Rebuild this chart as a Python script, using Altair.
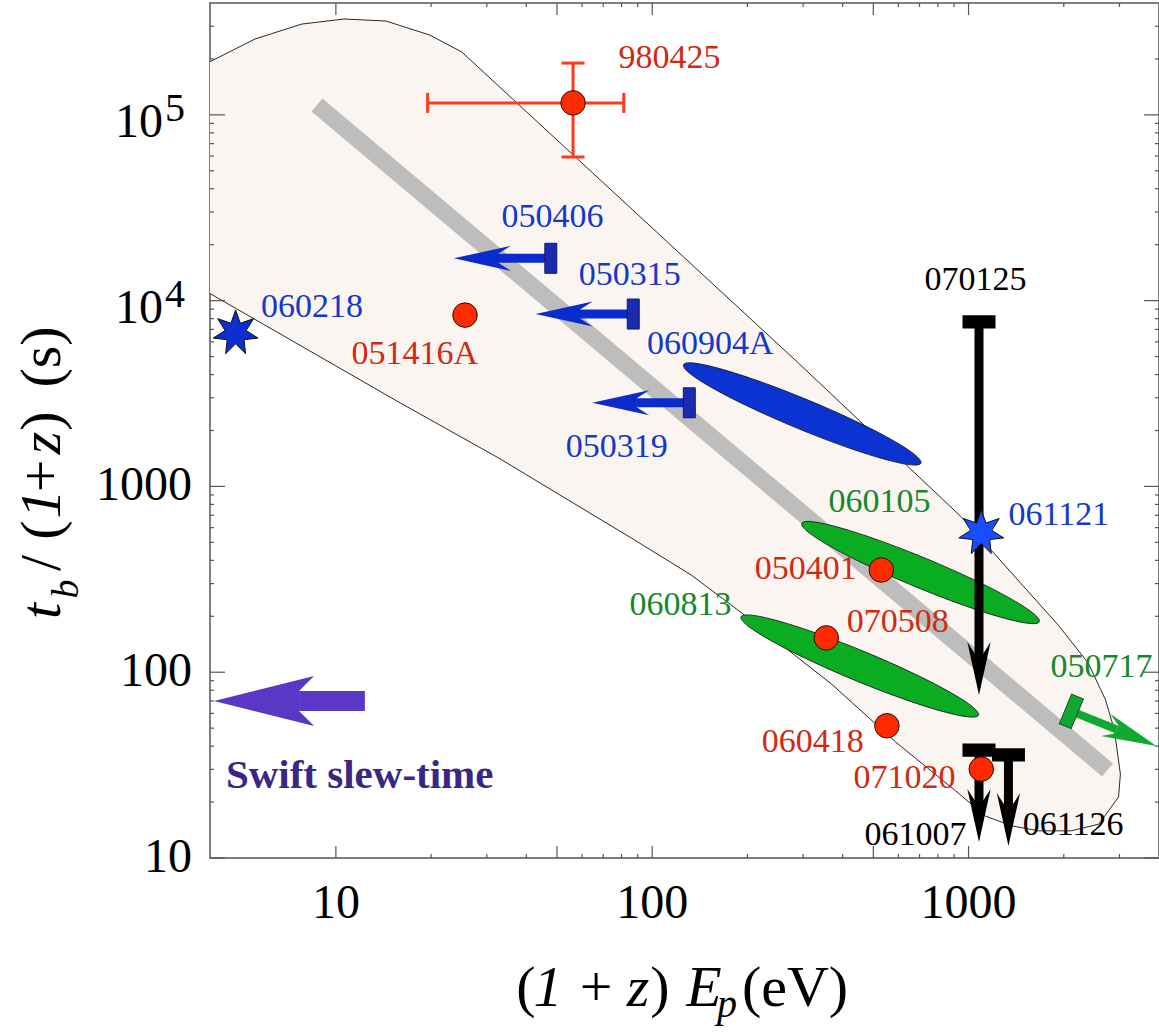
import math
import altair as alt
import pandas as pd

# ---------------- data ----------------
# envelope of the allowed region (closed outline, upper edge left->right, lower edge right->left)
env_E = [3.0, 3.97, 5.55, 7.8, 10.6, 14.4, 15.8, 19.8, 25.0, 290, 950, 1923, 2390, 2710,
         2890, 3020, 2980, 2580, 2110, 1663, 1368, 1132, 910, 588, 369, 290, 192, 133,
         86, 32.7, 15.8, 3.97, 3.0]
env_t = [1.51e5, 1.92e5, 2.56e5, 3.08e5, 3.28e5, 3.2e5, 3.04e5, 2.69e5, 2.18e5, 4610, 684,
         179, 112, 71, 48.9, 28.3, 21.3, 15.2, 14.0, 14.0, 14.9, 16.8, 23.0, 42.1, 86.3,
         119, 208, 333, 527, 1422, 2844, 11000, 14500]

# grey correlation band (end points)
band_E = [8.71, 2750]
band_t = [1.13e5, 29.8]

# red points
circ_name = ["980425", "051416A", "050401", "070508", "060418", "071020"]
circ_E = [56.2, 25.6, 530, 355, 552, 1097]
circ_t = [1.16e5, 8360, 355, 153, 51.5, 30.1]

# error bars of 980425
err_E = [56.2]
err_t = [1.16e5]
err_E_lo, err_E_hi = [19.5], [81.3]
err_t_lo, err_t_hi = [5.93e4], [1.90e5]

# stars
star_name = ["060218", "061121"]
star_E = [4.82, 1097]
star_t = [6700, 563]
star_col = ["#0b2fd0", "#1a4dff"]

# ellipses (centres)
ell_name = ["060904A", "060105", "060813"]
ell_E = [298, 705, 453]
ell_t = [2455, 344, 108]
ell_col = ["#0a33d1", "#0aad22", "#0aad22"]

# upper limits on E (arrows pointing left)
left_name = ["050406", "050315", "050319"]
left_E = [47.8, 87.1, 131]
left_tip = [23.6, 42.8, 64.6]
left_t = [16900, 8470, 2820]

# upper limits on t (arrows pointing down)
down_name = ["070125", "061007", "061126"]
down_E = [1079, 1079, 1337]
down_t = [7690, 38.1, 35.9]
down_tip = [75.4, 12.2, 11.6]

# 050717 (green, diagonal)
g_E, g_t = [2114], [61.6]
g_tipE, g_tipt = [3926], [40.1]

# Swift slew-time arrow
sw_E, sw_tip, sw_t = [12.35], [4.12], [70]

# labels
lab_left_text = ["980425", "050406", "050315", "060218", "051416A", "060904A", "050319",
                 "060105", "061121", "070508", "050717", "061126"]
lab_left_E = [78.3, 33.4, 58.6, 5.80, 11.2, 96.2, 53.3, 361, 1337, 412, 1815, 1483]
lab_left_t = [2.02e5, 28200, 13700, 9290, 5190, 5840, 1630, 824, 702, 186, 107, 15.0]
lab_left_col = ["#cf2a12", "#1438cc", "#1438cc", "#1438cc", "#cf2a12", "#1438cc", "#1438cc",
                "#14882c", "#1438cc", "#cf2a12", "#14882c", "#000000"]
lab_right_text = ["050401", "060813", "060418", "071020", "061007"]
lab_right_E = [443, 178, 466, 910, 986]
lab_right_t = [359, 230, 42.1, 27.0, 13.3]
lab_right_col = ["#cf2a12", "#14882c", "#cf2a12", "#cf2a12", "#000000"]
lab_center_text = ["070125"]
lab_center_E = [1052]
lab_center_t = [12900]

# axes ticks
x_major = [10, 100, 1000]
x_medium = [50, 500]
x_minor = [20, 30, 40, 60, 70, 80, 90, 200, 300, 400, 600, 700, 800, 900, 2000, 3000]
y_major = [10, 100, 1000, 1e4, 1e5]
y_minor = [k * 10 ** n for n in range(1, 6) for k in range(2, 10) if k * 10 ** n < 4e5]
x_lab_vals = [10, 100, 1000]
x_lab_text = ["10", "100", "1000"]
y_lab_vals = [10, 100, 1000]
y_lab_text = ["10", "100", "1000"]
y_pow_vals = [1e4, 1e5]
y_pow_exp = ["4", "5"]

# ---------------- styling helpers ----------------
F = "Liberation Serif"
W, H = 949, 855
xs = alt.Scale(type="log", domain=[4, 4000])
ys = alt.Scale(type="log", domain=[10, 4e5])


def X(f):
    return alt.X(f, type="quantitative", scale=xs, axis=None)


def Y(f):
    return alt.Y(f, type="quantitative", scale=ys, axis=None)


one = pd.DataFrame({"a": [0]})

# custom shapes
HEAD = "M 0 0 L -1 -0.22 L -0.78 -0.08 L -0.78 0.08 L -1 0.22 Z"
HEAD_BIG = "M 0 0 L -1 -0.25 L -0.85 -0.1 L -0.85 0.1 L -1 0.25 Z"
BAR = "M -0.4 -1 L 0.4 -1 L 0.4 1 L -0.4 1 Z"
r_e, k_e = 0.117, 0.5523
kr = k_e * r_e
ELL = (f"M 1 0 C 1 {kr:.4f} {k_e} {r_e} 0 {r_e} C {-k_e} {r_e} -1 {kr:.4f} -1 0 "
       f"C -1 {-kr:.4f} {-k_e} {-r_e} 0 {-r_e} C {k_e} {-r_e} 1 {-kr:.4f} 1 0 Z")
pts = []
for i in range(14):
    a = -math.pi / 2 + i * math.pi / 7
    rr = 1.0 if i % 2 == 0 else 0.47
    pts.append((rr * math.cos(a), rr * math.sin(a)))
STAR = "M " + " L ".join(f"{px:.3f} {py:.3f}" for px, py in pts) + " Z"

layers = []

# envelope
env_df = pd.DataFrame({"E": env_E, "t": env_t, "o": list(range(len(env_E)))})
layers.append(alt.Chart(env_df).mark_line(fill="#fbf5f2", stroke="#111111", strokeWidth=0.9,
                                          clip=True)
              .encode(x=X("E"), y=Y("t"), order="o:Q"))

# band
band_df = pd.DataFrame({"E": band_E, "t": band_t})
layers.append(alt.Chart(band_df).mark_line(color="#bdbdbd", strokeWidth=17, strokeCap="butt",
                                           clip=True)
              .encode(x=X("E"), y=Y("t")))

# ellipses
ell_df = pd.DataFrame({"E": ell_E, "t": ell_t, "c": ell_col})
layers.append(alt.Chart(ell_df).mark_point(shape=ELL, size=66049, angle=22.5, filled=True,
                                           opacity=1, stroke="#1a1a1a", strokeWidth=0.8)
              .encode(x=X("E"), y=Y("t"), fill=alt.Fill("c:N", scale=None)))

# left arrows
BLUE = "#0a2ccc"
left_df = pd.DataFrame({"E": left_E, "tip": left_tip, "t": left_t})
layers.append(alt.Chart(left_df).mark_rule(color=BLUE, strokeWidth=9, x2Offset=44)
              .encode(x=X("E"), x2="tip:Q", y=Y("t")))
layers.append(alt.Chart(left_df).mark_point(shape=HEAD, size=12996, angle=180, filled=True,
                                            opacity=1, color=BLUE, strokeWidth=0)
              .encode(x=X("tip"), y=Y("t")))
layers.append(alt.Chart(left_df).mark_point(shape=BAR, size=900, angle=0, filled=True, opacity=1,
                                            fill="#1a2bb0", stroke="#1a1a60", strokeWidth=1)
              .encode(x=X("E"), y=Y("t")))

# down arrows
down_df = pd.DataFrame({"E": down_E, "t": down_t, "tip": down_tip})
layers.append(alt.Chart(down_df).mark_rule(color="black", strokeWidth=9, y2Offset=-41)
              .encode(x=X("E"), y=Y("t"), y2="tip:Q"))
layers.append(alt.Chart(down_df).mark_point(shape=HEAD, size=11236, angle=90, filled=True,
                                            opacity=1, color="black", strokeWidth=0)
              .encode(x=X("E"), y=Y("tip")))
layers.append(alt.Chart(down_df).mark_point(shape=BAR, size=1089, angle=90, filled=True,
                                            opacity=1, color="black", strokeWidth=0)
              .encode(x=X("E"), y=Y("t")))

# green 050717
GREEN = "#10a830"
g_df = pd.DataFrame({"E": g_E, "t": g_t, "tE": g_tipE, "tt": g_tipt})
layers.append(alt.Chart(g_df).mark_rule(color=GREEN, strokeWidth=8, x2Offset=-39.6,
                                        y2Offset=-16.4, clip=True)
              .encode(x=X("E"), y=Y("t"), x2="tE:Q", y2="tt:Q"))
layers.append(alt.Chart(g_df).mark_point(shape=HEAD, size=12100, angle=22.5, filled=True,
                                         opacity=1, color=GREEN, strokeWidth=0, clip=True)
              .encode(x=X("tE"), y=Y("tt")))
layers.append(alt.Chart(g_df).mark_point(shape=BAR, size=1024, angle=22.5, filled=True, opacity=1,
                                         fill=GREEN, stroke="#145020", strokeWidth=1)
              .encode(x=X("E"), y=Y("t")))

# Swift slew-time arrow
PURP = "#5b37c6"
sw_df = pd.DataFrame({"E": sw_E, "tip": sw_tip, "t": sw_t})
layers.append(alt.Chart(sw_df).mark_rule(color=PURP, strokeWidth=20, x2Offset=85)
              .encode(x=X("E"), x2="tip:Q", y=Y("t")))
layers.append(alt.Chart(sw_df).mark_point(shape=HEAD_BIG, size=40000, angle=180, filled=True,
                                          opacity=1, color=PURP, strokeWidth=0)
              .encode(x=X("tip"), y=Y("t")))

# error bars 980425
ERR = "#ff3a1a"
eb = pd.DataFrame({"E": err_E, "t": err_t, "Elo": err_E_lo, "Ehi": err_E_hi,
                   "tlo": err_t_lo, "thi": err_t_hi})
layers.append(alt.Chart(eb).mark_rule(color=ERR, strokeWidth=3)
              .encode(x=X("Elo"), x2="Ehi:Q", y=Y("t")))
layers.append(alt.Chart(eb).mark_rule(color=ERR, strokeWidth=3)
              .encode(x=X("E"), y=Y("tlo"), y2="thi:Q"))
for fE in ["Elo", "Ehi"]:
    layers.append(alt.Chart(eb).mark_tick(color=ERR, orient="vertical", size=20, thickness=3,
                                          opacity=1)
                  .encode(x=X(fE), y=Y("t")))
for ft in ["tlo", "thi"]:
    layers.append(alt.Chart(eb).mark_tick(color=ERR, orient="horizontal", size=23, thickness=3,
                                          opacity=1)
                  .encode(x=X("E"), y=Y(ft)))

# circles
circ_df = pd.DataFrame({"E": circ_E, "t": circ_t})
layers.append(alt.Chart(circ_df).mark_point(shape="circle", size=600, filled=True, opacity=1,
                                            fill="#ff2a00", stroke="#2a0a00", strokeWidth=1)
              .encode(x=X("E"), y=Y("t")))

# stars
star_df = pd.DataFrame({"E": star_E, "t": star_t, "c": star_col})
layers.append(alt.Chart(star_df).mark_point(shape=STAR, size=2116, filled=True, opacity=1,
                                            stroke="#111111", strokeWidth=1)
              .encode(x=X("E"), y=Y("t"), fill=alt.Fill("c:N", scale=None)))

# data labels
LS = 34
ll = pd.DataFrame({"E": lab_left_E, "t": lab_left_t, "s": lab_left_text, "c": lab_left_col})
layers.append(alt.Chart(ll).mark_text(font=F, fontSize=LS, align="left", baseline="middle")
              .encode(x=X("E"), y=Y("t"), text="s:N", color=alt.Color("c:N", scale=None)))
lr = pd.DataFrame({"E": lab_right_E, "t": lab_right_t, "s": lab_right_text, "c": lab_right_col})
layers.append(alt.Chart(lr).mark_text(font=F, fontSize=LS, align="right", baseline="middle")
              .encode(x=X("E"), y=Y("t"), text="s:N", color=alt.Color("c:N", scale=None)))
lc = pd.DataFrame({"E": lab_center_E, "t": lab_center_t, "s": lab_center_text})
layers.append(alt.Chart(lc).mark_text(font=F, fontSize=LS, align="center", baseline="middle",
                                      color="black")
              .encode(x=X("E"), y=Y("t"), text="s:N"))
swl = pd.DataFrame({"E": [4.49], "t": [23.8], "s": ["Swift slew-time"]})
layers.append(alt.Chart(swl).mark_text(font=F, fontSize=41, fontWeight="bold", align="left",
                                       baseline="alphabetic", color="#3b2585")
              .encode(x=X("E"), y=Y("t"), text="s:N"))

# ---------------- axes (inward ticks on all four sides) ----------------
AX = "#555555"
xM = pd.DataFrame({"v": x_major + x_medium})
xm = pd.DataFrame({"v": x_minor})
yM = pd.DataFrame({"v": y_major})
ym = pd.DataFrame({"v": y_minor})
for df, ln in [(xM, 12), (xm, 4)]:
    layers.append(alt.Chart(df).mark_rule(color=AX, strokeWidth=1.2)
                  .encode(x=X("v"), y=alt.value(H), y2=alt.value(H - ln)))
    layers.append(alt.Chart(df).mark_rule(color=AX, strokeWidth=1.2)
                  .encode(x=X("v"), y=alt.value(0), y2=alt.value(ln)))
for df, ln in [(yM, 15), (ym, 4)]:
    layers.append(alt.Chart(df).mark_rule(color=AX, strokeWidth=1.2)
                  .encode(y=Y("v"), x=alt.value(0), x2=alt.value(ln)))
    layers.append(alt.Chart(df).mark_rule(color=AX, strokeWidth=1.2)
                  .encode(y=Y("v"), x=alt.value(W), x2=alt.value(W - ln)))

# tick labels
xl = pd.DataFrame({"v": x_lab_vals, "s": x_lab_text})
layers.append(alt.Chart(xl).mark_text(font=F, fontSize=48, align="center", baseline="alphabetic",
                                      color="black")
              .encode(x=X("v"), y=alt.value(915), text="s:N"))
yl = pd.DataFrame({"v": y_lab_vals, "s": y_lab_text})
layers.append(alt.Chart(yl).mark_text(font=F, fontSize=48, align="right", baseline="middle",
                                      color="black")
              .encode(y=Y("v"), x=alt.value(-18), text="s:N"))
yp = pd.DataFrame({"v": y_pow_vals, "e": y_pow_exp})
layers.append(alt.Chart(yp).mark_text(font=F, fontSize=48, align="right", baseline="middle",
                                      color="black", text="10", dy=8)
              .encode(y=Y("v"), x=alt.value(-47)))
layers.append(alt.Chart(yp).mark_text(font=F, fontSize=40, align="left", baseline="alphabetic",
                                      color="black", dy=6)
              .encode(y=Y("v"), x=alt.value(-45), text="e:N"))


def piece(s, x, y, size, style="normal", angle=0, align="center"):
    return (alt.Chart(one)
            .mark_text(text=s, font=F, fontSize=size, fontStyle=style, angle=angle, align=align,
                       baseline="alphabetic", color="black")
            .encode(x=alt.value(x), y=alt.value(y)))


# x-axis title: (1 + z) E_p (eV)
TS = 58
layers += [
    piece("(", 316, 1003, TS),
    piece("1", 338, 1003, TS, "italic"),
    piece("+", 386, 1003, TS),
    piece("z", 428, 1003, TS, "italic"),
    piece(")", 450, 1003, TS),
    piece("E", 494, 1003, TS, "italic"),
    piece("p", 517, 1014, 40, "italic"),
    piece("(eV)", 585, 1003, TS),
]
# y-axis title: t_b / (1+z) (s)   (rotated)
BX = -150
layers += [
    piece("t", BX, 608, TS, "italic", 270),
    piece("b", BX + 18, 586, 38, "italic", 270),
    piece("/", BX, 560, TS, "normal", 270),
    piece("(", BX, 527, TS, "normal", 270),
    piece("1", BX, 501, TS, "italic", 270),
    piece("+", BX, 473, TS, "normal", 270),
    piece("z", BX, 440, TS, "italic", 270),
    piece(")", BX, 418, TS, "normal", 270),
    piece("(s)", BX, 354, TS, "normal", 270),
]

chart = (alt.layer(*layers)
         .properties(width=W, height=H,
                     padding={"left": 210, "top": 3, "right": 0, "bottom": 174},
                     autosize=alt.AutoSizeParams(type="none"),
                     background="white")
         .configure_view(stroke=AX, strokeWidth=1.5))

chart.save("out.html", embed_options={"renderer": "svg", "actions": False})
